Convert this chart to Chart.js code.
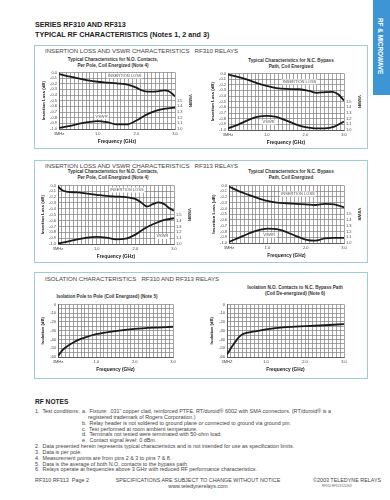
<!DOCTYPE html>
<html>
<head>
<meta charset="utf-8">
<script src="https://cdn.jsdelivr.net/npm/chart.js@4.4.0/dist/chart.umd.min.js"></script>
<style>
  body { margin: 0; background: #fff; font-family: 'Liberation Sans', Arial, sans-serif; color: #333; }
  #page { position: relative; width: 390px; height: 500px; overflow: hidden; }
  .t { position: absolute; white-space: pre; line-height: 1; }
  .hdr { font-weight: bold; font-size: 7.2px; color: #222; }
  .box { position: absolute; border: 1px solid #9fcbdb; box-sizing: border-box; }
  .boxTitle { font-size: 6.1px; color: #444; }
  .sub { font-weight: bold; font-size: 4.6px; color: #333; transform: translateX(-50%); text-align: center; line-height: 6px; }
  .note { font-size: 5.4px; color: #444; }
  #tab { position: absolute; left: 373px; top: 0; width: 17px; height: 95px; background: #3d95d6; }
  #tab span { position: absolute; left: 4px; top: 18px; writing-mode: vertical-rl; color: #fff; font-weight: bold; font-size: 6.4px; }
  canvas { position: absolute; }
</style>
</head>
<body>
<div id="page">
  <div id="tab"><span>RF &amp; MICROWAVE</span></div>

  <div class="t hdr" style="left:35px; top:21px;">SERIES RF310 AND RF313</div>
  <div class="t hdr" style="left:35px; top:31px;">TYPICAL RF CHARACTERISTICS (Notes 1, 2 and 3)</div>

  <div class="box" style="left:34px; top:45px; width:334px; height:104px;"></div>
  <div class="t boxTitle" style="left:45px; top:48px;">INSERTION LOSS AND VSWR CHARACTERISTICS   RF310 RELAYS</div>
  <div class="t sub" style="left:113px; top:57px;">Typical Characteristics for N.O. Contacts,
Per Pole, Coil Energized (Note 4)</div>
  <div class="t sub" style="left:291px; top:58px;">Typical Characteristics for N.C. Bypass
Path, Coil Energized</div>

  <div class="box" style="left:34px; top:160px; width:334px; height:103px;"></div>
  <div class="t boxTitle" style="left:45px; top:163px;">INSERTION LOSS AND VSWR CHARACTERISTICS   RF313 RELAYS</div>
  <div class="t sub" style="left:113px; top:169px;">Typical Characteristics for N.O. Contacts,
Per Pole, Coil Energized (Note 4)</div>
  <div class="t sub" style="left:291px; top:169px;">Typical Characteristics for N.C. Bypass
Path, Coil Energized</div>

  <div class="box" style="left:34px; top:272px; width:334px; height:107px;"></div>
  <div class="t boxTitle" style="left:45px; top:276px;">ISOLATION CHARACTERISTICS   RF310 AND RF313 RELAYS</div>
  <div class="t sub" style="left:107px; top:294px;">Isolation Pole to Pole (Coil Energized) (Note 5)</div>
  <div class="t sub" style="left:295px; top:285px;">Isolation N.O. Contacts to N.C. Bypass Path
(Coil De-energized) (Note 6)</div>

  <canvas id="c1"></canvas>
  <canvas id="c2"></canvas>
  <canvas id="c3"></canvas>
  <canvas id="c4"></canvas>
  <canvas id="c5"></canvas>
  <canvas id="c6"></canvas>

  <div class="t" style="left:35px; top:399px; font-weight:bold; font-size:6.6px; color:#222;">RF NOTES</div>
  <div class="t note" style="left:35px; top:409px;">1.  Test conditions:</div>
  <div class="t note" style="left:82px; top:409px;">a.  Fixture: .031" copper clad, reinforced PTFE, RT/duroid® 6002 with SMA connectors. (RT/duroid® is a</div>
  <div class="t note" style="left:88px; top:415px;">registered trademark of Rogers Corporation.)</div>
  <div class="t note" style="left:82px; top:421px;">b.  Relay header is not soldered to ground plane or connected to ground via ground pin.</div>
  <div class="t note" style="left:82px; top:427px;">c.  Test performed at room ambient temperature.</div>
  <div class="t note" style="left:82px; top:432px;">d.  Terminals not tested were terminated with 50-ohm load.</div>
  <div class="t note" style="left:82px; top:438px;">e.  Contact signal level: 0 dBm.</div>
  <div class="t note" style="left:35px; top:444px;">2.  Data presented herein represents typical characteristics and is not intended for use as specification limits.</div>
  <div class="t note" style="left:35px; top:450px;">3.  Data is per pole.</div>
  <div class="t note" style="left:35px; top:456px;">4.  Measurement points are from pins 2 &amp; 3 to pins 7 &amp; 8.</div>
  <div class="t note" style="left:35px; top:462px;">5.  Data is the average of both N.O. contacts to the bypass path.</div>
  <div class="t note" style="left:35px; top:467px;">6.  Relays operate at frequencies above 3 GHz with reduced RF performance characteristics.</div>

  <div class="t note" style="left:35px; top:478px;">RF310 RF313  Page 2</div>
  <div class="t note" style="left:198px; top:478px; transform:translateX(-50%); text-align:center; line-height:5.5px;">SPECIFICATIONS ARE SUBJECT TO CHANGE WITHOUT NOTICE
www.teledynerelays.com</div>
  <div class="t note" style="left:313px; top:478px;">©2003 TELEDYNE RELAYS</div>
  <div class="t" style="left:322px; top:485px; font-size:3px; color:#666;">RF310 RF313/120303</div>
</div>

<script>
// ─── RF310 N.O. contacts ───
const c1LossFreq = [0.003, 0.25, 0.5, 0.75, 1.0, 1.25, 1.5, 1.8, 2.0, 2.15, 2.3, 2.55, 2.72, 2.82, 2.92, 3.0];
const c1Loss     = [-0.03, -0.07, -0.105, -0.14, -0.165, -0.18, -0.195, -0.22, -0.27, -0.32, -0.34, -0.335, -0.318, -0.325, -0.37, -0.425];
const c1VswrFreq = [0.003, 0.25, 0.5, 0.75, 1.0, 1.25, 1.5, 1.75, 2.0, 2.25, 2.5, 2.75, 3.0];
const c1Vswr     = [1.02, 1.05, 1.09, 1.12, 1.14, 1.12, 1.08, 1.08, 1.15, 1.25, 1.32, 1.36, 1.38];

// ─── RF310 N.C. bypass ───
const c2LossFreq = [0.003, 0.25, 0.5, 0.75, 1.0, 1.25, 1.5, 1.85, 2.1, 2.3, 2.5, 2.7, 2.85, 3.0];
const c2Loss     = [-0.02, -0.06, -0.11, -0.17, -0.22, -0.26, -0.275, -0.28, -0.31, -0.345, -0.33, -0.325, -0.37, -0.48];
const c2VswrFreq = [0.003, 0.25, 0.5, 0.75, 1.0, 1.25, 1.5, 1.75, 2.0, 2.25, 2.5, 2.75, 3.0];
const c2Vswr     = [1.03, 1.09, 1.17, 1.23, 1.25, 1.23, 1.17, 1.1, 1.05, 1.03, 1.03, 1.06, 1.15];

// ─── RF313 N.O. contacts ───
const c3LossFreq = [0.003, 0.1, 0.25, 0.5, 0.75, 1.0, 1.25, 1.5, 1.75, 2.0, 2.15, 2.3, 2.45, 2.6, 2.75, 2.9, 3.0];
const c3Loss     = [-0.02, -0.08, -0.11, -0.12, -0.14, -0.16, -0.18, -0.19, -0.2, -0.23, -0.29, -0.36, -0.32, -0.29, -0.32, -0.4, -0.43];
const c3VswrFreq = [0.003, 0.25, 0.5, 0.75, 1.0, 1.25, 1.5, 1.75, 2.0, 2.25, 2.5, 2.75, 3.0];
const c3Vswr     = [1.01, 1.04, 1.08, 1.11, 1.12, 1.11, 1.08, 1.09, 1.16, 1.27, 1.35, 1.41, 1.44];

// ─── RF313 N.C. bypass ───
const c4LossFreq = [0.003, 0.25, 0.5, 0.75, 1.0, 1.25, 1.5, 1.75, 2.0, 2.25, 2.5, 2.75, 3.0];
const c4Loss     = [-0.02, -0.1, -0.16, -0.22, -0.27, -0.3, -0.31, -0.32, -0.33, -0.34, -0.32, -0.33, -0.38];
const c4VswrFreq = [0.003, 0.25, 0.5, 0.75, 1.0, 1.25, 1.5, 1.75, 2.0, 2.25, 2.5, 2.75, 3.0];
const c4Vswr     = [1.02, 1.09, 1.16, 1.22, 1.25, 1.24, 1.19, 1.12, 1.06, 1.04, 1.08, 1.09, 1.09];

// ─── Isolation ───
const c5Freq = [0.003, 0.1, 0.2, 0.3, 0.4, 0.5, 0.75, 1.0, 1.5, 2.0, 2.5, 3.0];
const c5Iso  = [-59, -53, -49, -46, -43.5, -41, -37, -34, -30.5, -28, -26.5, -25.5];
const c6Freq = [0.003, 0.1, 0.2, 0.3, 0.4, 0.5, 0.75, 1.0, 1.5, 2.0, 2.5, 3.0];
const c6Iso  = [-57, -50, -43.5, -37.5, -34, -32.5, -30.5, -28.5, -26, -24.8, -23.8, -22.5];

const FONT = "'Liberation Sans', Arial, sans-serif";
const GRID = '#7d7d7d';
const INK = '#1a1a1a';

function pts(xs, ys) { return xs.map((x, i) => ({ x: x, y: ys[i] })); }
function r1(v) { return Math.round(v * 10) / 10; }

// labels drawn inside the plot, placed by data values
const curveNotes = {
  id: 'curveNotes',
  beforeDatasetsDraw(chart, args, opts) {
    const ctx = chart.ctx;
    (opts.items || []).forEach(n => {
      const px = chart.scales.x.getPixelForValue(n.x);
      const py = chart.scales.y.getPixelForValue(n.y);
      ctx.save();
      ctx.font = '4px ' + FONT;
      const w = ctx.measureText(n.text).width;
      ctx.fillStyle = '#fff';
      ctx.fillRect(px - w / 2 - 1, py - 2.5, w + 2, 5);
      ctx.fillStyle = '#555';
      ctx.textAlign = 'center';
      ctx.textBaseline = 'middle';
      ctx.fillText(n.text, px, py);
      ctx.restore();
    });
  }
};

function place(id, plot, leftW, rightW) {
  const cv = document.getElementById(id);
  const w = plot.w + leftW + rightW, h = plot.h + 4 + 16;
  cv.width = w; cv.height = h;
  cv.style.left = (plot.x - leftW) + 'px';
  cv.style.top = (plot.y - 4) + 'px';
  cv.style.width = w + 'px'; cv.style.height = h + 'px';
  return cv;
}

function xScale(zeroLabel) {
  return {
    type: 'linear', min: 0, max: 3,
    afterFit: s => { s.height = 16; },
    grid: { color: GRID, lineWidth: 0.7, drawTicks: false },
    border: { color: '#555', width: 0.9 },
    ticks: {
      stepSize: 0.1, autoSkip: false, maxRotation: 0, padding: 2,
      color: '#444', font: { family: FONT, size: 4 },
      callback: v => {
        const t = r1(v);
        if (t === 0) return zeroLabel;
        return Number.isInteger(t) ? t.toFixed(1) : '';
      }
    },
    title: { display: true, text: 'Frequency (GHz)', color: '#222', padding: 0, font: { family: FONT, size: 4.8, weight: 'bold' } }
  };
}

function lossChart(id, plot, loss, vswr, notes) {
  const cv = place(id, plot, 18, 18);
  return new Chart(cv, {
    type: 'line',
    data: {
      datasets: [
        { data: loss, yAxisID: 'y', borderColor: INK, borderWidth: 1.8, pointRadius: 0, cubicInterpolationMode: 'monotone', fill: false },
        { data: vswr, yAxisID: 'y2', borderColor: INK, borderWidth: 1.8, pointRadius: 0, cubicInterpolationMode: 'monotone', fill: false }
      ]
    },
    options: {
      responsive: false, animation: false, devicePixelRatio: 1,
      layout: { padding: { top: 4, left: 0, right: 0, bottom: 0 } },
      plugins: { legend: { display: false }, tooltip: { enabled: false }, curveNotes: { items: notes } },
      scales: {
        x: xScale('3MHz'),
        y: {
          min: -1, max: 0,
          afterFit: s => { s.width = 18; },
          grid: { color: GRID, lineWidth: 0.7, drawTicks: false },
          border: { color: '#555', width: 0.9 },
          ticks: { stepSize: 0.1, autoSkip: false, padding: 2, color: '#444', font: { family: FONT, size: 4 },
            callback: v => r1(v) === 0 ? '0.0' : r1(v).toFixed(1) },
          title: { display: true, text: 'Insertion Loss (dB)', color: '#222', padding: 0, font: { family: FONT, size: 4.3, weight: 'bold' } }
        },
        y2: {
          position: 'right', min: 1.0, max: 2.0,
          afterFit: s => { s.width = 18; },
          grid: { drawOnChartArea: false, drawTicks: false },
          border: { display: false },
          ticks: { stepSize: 0.1, autoSkip: false, padding: 2, color: '#444', font: { family: FONT, size: 4 },
            callback: v => r1(v) <= 1.5 ? r1(v).toFixed(1) : '' },
          title: { display: true, text: 'VSWR', color: '#222', padding: 0, font: { family: FONT, size: 4.3, weight: 'bold' } }
        }
      }
    },
    plugins: [curveNotes]
  });
}

function isoChart(id, plot, iso, zeroLabel) {
  const cv = place(id, plot, 18, 6);
  return new Chart(cv, {
    type: 'line',
    data: {
      datasets: [
        { data: iso, borderColor: INK, borderWidth: 1.8, pointRadius: 0, cubicInterpolationMode: 'monotone', fill: false }
      ]
    },
    options: {
      responsive: false, animation: false, devicePixelRatio: 1,
      layout: { padding: { top: 4, left: 0, right: 6, bottom: 0 } },
      plugins: { legend: { display: false }, tooltip: { enabled: false } },
      scales: {
        x: xScale(zeroLabel),
        y: {
          min: -60, max: 0,
          afterFit: s => { s.width = 18; },
          grid: { color: GRID, lineWidth: 0.7, drawTicks: false },
          border: { color: '#555', width: 0.9 },
          ticks: { stepSize: 5, autoSkip: false, padding: 2, color: '#444', font: { family: FONT, size: 4 },
            callback: v => v % 10 === 0 ? String(v) : '' },
          title: { display: true, text: 'Isolation (dB)', color: '#222', padding: 0, font: { family: FONT, size: 4.3, weight: 'bold' } }
        }
      }
    }
  });
}

lossChart('c1', { x: 59, y: 72, w: 116, h: 57 }, pts(c1LossFreq, c1Loss), pts(c1VswrFreq, c1Vswr),
  [{ text: 'INSERTION LOSS', x: 1.7, y: -0.06 }, { text: 'VSWR', x: 1.1, y: -0.78 }]);
lossChart('c2', { x: 228, y: 73, w: 116, h: 57 }, pts(c2LossFreq, c2Loss), pts(c2VswrFreq, c2Vswr),
  [{ text: 'INSERTION LOSS', x: 1.85, y: -0.15 }, { text: 'VSWR', x: 1.05, y: -0.86 }]);
lossChart('c3', { x: 58, y: 185, w: 116, h: 59 }, pts(c3LossFreq, c3Loss), pts(c3VswrFreq, c3Vswr),
  [{ text: 'INSERTION LOSS', x: 1.78, y: -0.08 }, { text: 'VSWR', x: 2.7, y: -0.87 }]);
lossChart('c4', { x: 229, y: 185, w: 115, h: 58 }, pts(c4LossFreq, c4Loss), pts(c4VswrFreq, c4Vswr),
  [{ text: 'INSERTION LOSS', x: 1.8, y: -0.15 }, { text: 'VSWR', x: 1.05, y: -0.86 }]);
isoChart('c5', { x: 58, y: 304, w: 115, h: 53 }, pts(c5Freq, c5Iso), '3MHz');
isoChart('c6', { x: 227, y: 304, w: 117, h: 53 }, pts(c6Freq, c6Iso), '3MHZ');
</script>
</body>
</html>
